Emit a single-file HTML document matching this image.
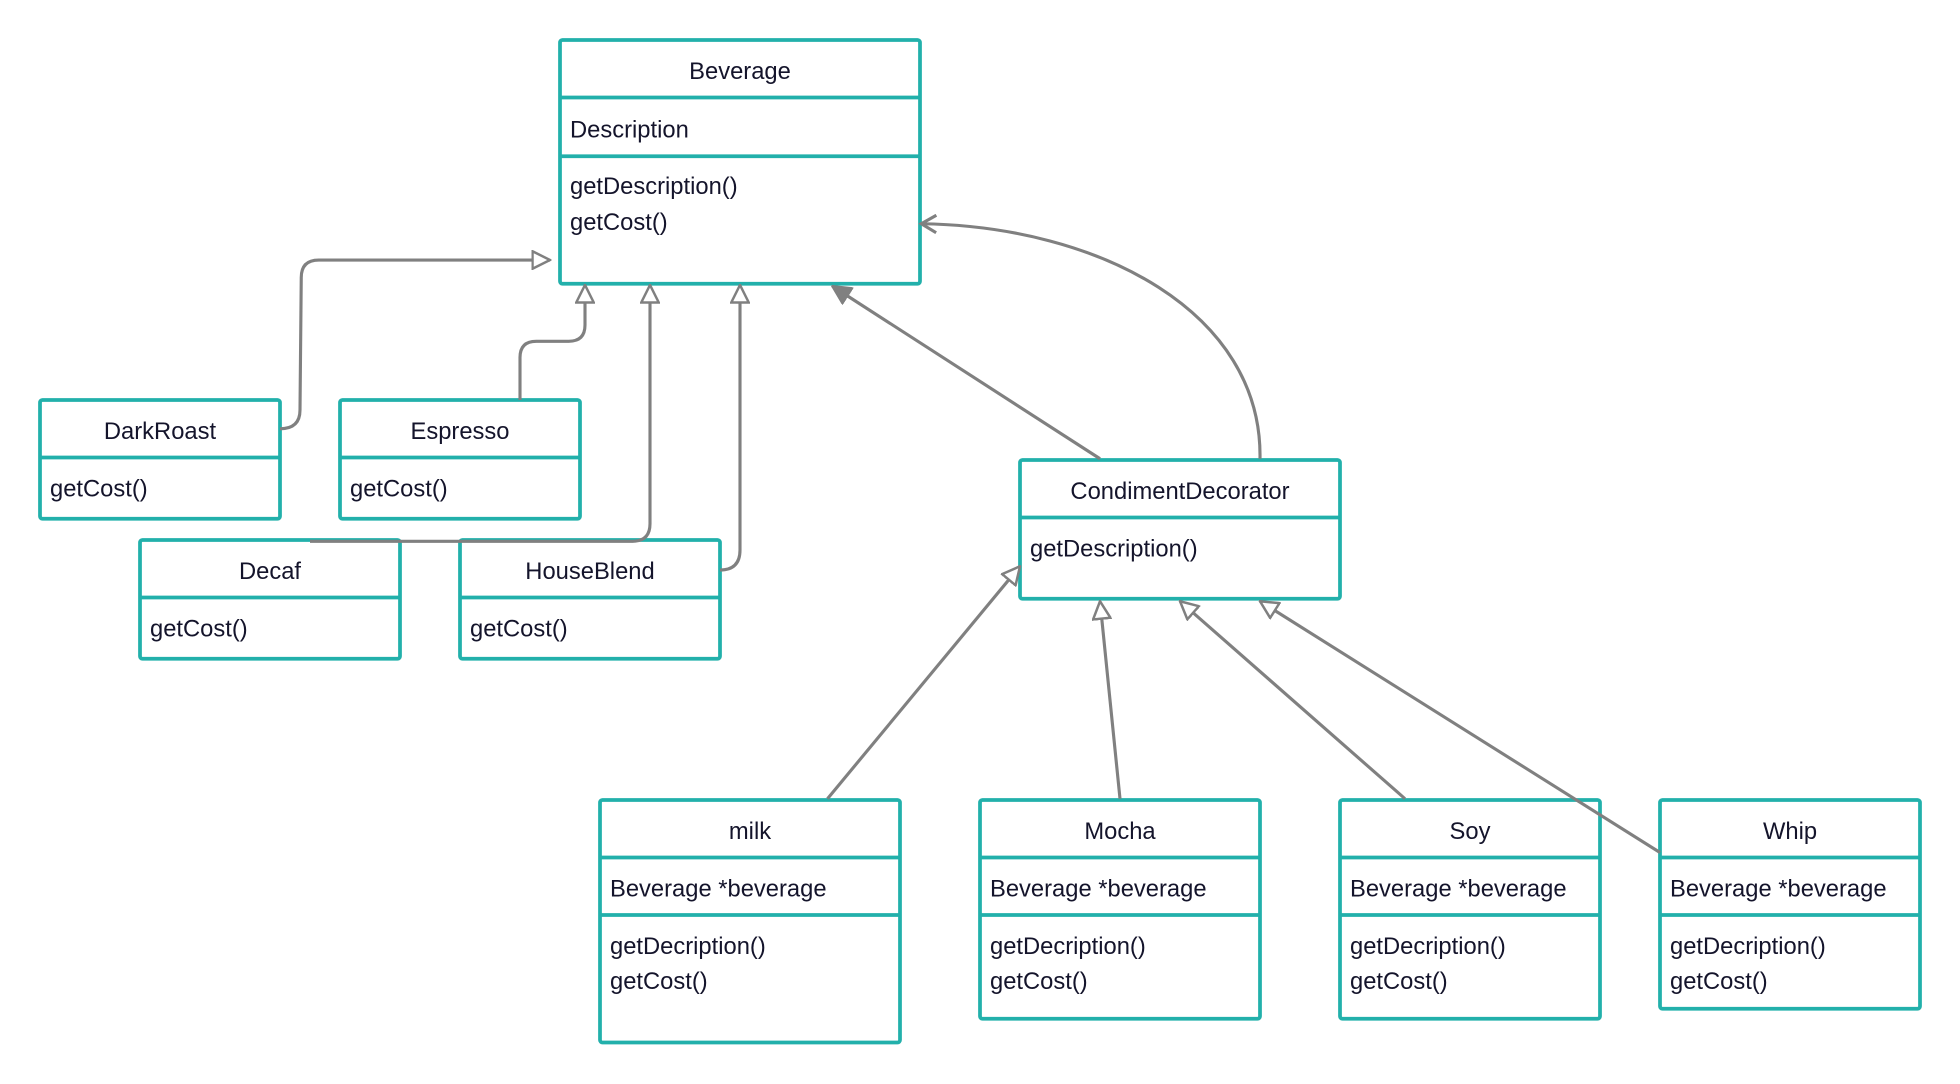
<!DOCTYPE html>
<html><head><style>html,body{margin:0;padding:0;background:#fff}svg{display:block}text{font-family:"Liberation Sans",sans-serif;font-size:19px;fill:#14142b}</style></head><body>
<svg width="1960" height="1084" viewBox="0 0 1568 867.2" xmlns="http://www.w3.org/2000/svg">
<defs>
<marker id="h" viewBox="0 0 16 16" refX="15" refY="8" markerWidth="16" markerHeight="16" markerUnits="userSpaceOnUse" orient="auto"><path d="M1,1 L15,8 L1,15 Z" fill="#fff" stroke="#808080" stroke-width="2"/></marker>
<marker id="f" viewBox="0 0 16 16" refX="15" refY="8" markerWidth="16" markerHeight="16" markerUnits="userSpaceOnUse" orient="auto"><path d="M1,1 L15,8 L1,15 Z" fill="#808080" stroke="#808080" stroke-width="2"/></marker>
<marker id="o" viewBox="0 0 16 16" refX="14" refY="8" markerWidth="16" markerHeight="16" markerUnits="userSpaceOnUse" orient="auto"><path d="M2,1 L14,8 L2,15" fill="none" stroke="#808080" stroke-width="2.5"/></marker>
</defs>
<g fill="#fff" stroke="#22b0ab" stroke-width="3">
<rect x="448" y="32" width="288" height="195" rx="2"/><path d="M448,78H736M448,125H736"/>
<rect x="32" y="320" width="192" height="95" rx="2"/><path d="M32,366H224"/>
<rect x="272" y="320" width="192" height="95" rx="2"/><path d="M272,366H464"/>
<rect x="112" y="432" width="208" height="95" rx="2"/><path d="M112,478H320"/>
<rect x="368" y="432" width="208" height="95" rx="2"/><path d="M368,478H576"/>
<rect x="816" y="368" width="256" height="111" rx="2"/><path d="M816,414H1072"/>
<rect x="480" y="640" width="240" height="194" rx="2"/><path d="M480,686H720M480,732H720"/>
<rect x="784" y="640" width="224" height="175" rx="2"/><path d="M784,686H1008M784,732H1008"/>
<rect x="1072" y="640" width="208" height="175" rx="2"/><path d="M1072,686H1280M1072,732H1280"/>
<rect x="1328" y="640" width="208" height="167" rx="2"/><path d="M1328,686H1536M1328,732H1536"/>
</g>
<g fill="none" stroke="#808080" stroke-width="2.5">
<path d="M224,343 Q240,343 240,328 L241,222 Q241,208 255,208 L440,208" marker-end="url(#h)"/>
<path d="M416,320 L416,286 Q416,273 429,273 L455,273 Q468,273 468,260 L468,228" marker-end="url(#h)"/>
<path d="M248,433 L506,433 Q520,433 520,419 L520,228" marker-end="url(#h)"/>
<path d="M576,456 Q592,456 592,440 L592,228" marker-end="url(#h)"/>
<path d="M880,367 L666,229" marker-end="url(#f)"/>
<path d="M1008,367 C1010,250 880,181 737,179" marker-end="url(#o)"/>
<path d="M662,639 L816,453" marker-end="url(#h)"/>
<path d="M896,639 L880,481" marker-end="url(#h)"/>
<path d="M1124,639 L944,481" marker-end="url(#h)"/>
<path d="M1328,682 L1008,481" marker-end="url(#h)"/>
</g>
<g text-anchor="middle">
<text x="592" y="63">Beverage</text>
<text x="128" y="351">DarkRoast</text>
<text x="368" y="351">Espresso</text>
<text x="216" y="463">Decaf</text>
<text x="472" y="463">HouseBlend</text>
<text x="944" y="399">CondimentDecorator</text>
<text x="600" y="671">milk</text>
<text x="896" y="671">Mocha</text>
<text x="1176" y="671">Soy</text>
<text x="1432" y="671">Whip</text>
</g>
<text x="456" y="110">Description</text>
<text x="456" y="155">getDescription()</text>
<text x="456" y="184">getCost()</text>
<text x="40" y="397">getCost()</text>
<text x="280" y="397">getCost()</text>
<text x="120" y="509">getCost()</text>
<text x="376" y="509">getCost()</text>
<text x="824" y="445">getDescription()</text>
<text x="488" y="717">Beverage *beverage</text><text x="488" y="763">getDecription()</text><text x="488" y="791">getCost()</text>
<text x="792" y="717">Beverage *beverage</text><text x="792" y="763">getDecription()</text><text x="792" y="791">getCost()</text>
<text x="1080" y="717">Beverage *beverage</text><text x="1080" y="763">getDecription()</text><text x="1080" y="791">getCost()</text>
<text x="1336" y="717">Beverage *beverage</text><text x="1336" y="763">getDecription()</text><text x="1336" y="791">getCost()</text>
</svg>
</body></html>
